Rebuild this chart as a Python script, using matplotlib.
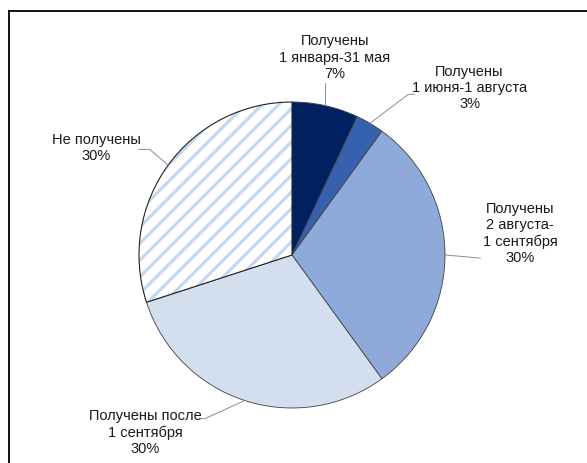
import numpy as np
import matplotlib.pyplot as plt
from matplotlib.patches import Wedge
from matplotlib.lines import Line2D

plt.rcParams['font.family'] = ['Liberation Sans Narrow', 'Liberation Sans', 'DejaVu Sans']
plt.rcParams['hatch.linewidth'] = 2.3

# доли писем по срокам получения
labels = ['Получены\n1 января-31 мая', 'Получены\n1 июня-1 августа',
          'Получены\n2 августа-\n1 сентября', 'Получены после\n1 сентября',
          'Не получены']
values = [7, 3, 30, 30, 30]
colors = ['#002060', '#3561ae', '#8eaadb', '#d3deef', '#ffffff']

# положение подписей и изломы выносок (в единицах радиуса)
label_xy = [(0.28, 1.29), (1.16, 1.09), (1.49, 0.14), (-0.96, -1.16), (-1.28, 0.70)]
elbow_xy = [(0.22, 1.12), (0.76, 1.05), (1.23, -0.02), (-0.57, -1.07), (-0.93, 0.69)]
elbow_end = [None, (0.80, 1.05), None, (-0.60, -1.07), (-1.00, 0.69)]

fig = plt.figure(figsize=(5.87, 4.63), dpi=100)
ax = fig.add_axes([0, 0, 1, 1])

wedges, _ = ax.pie(values, colors=colors, startangle=90, counterclock=False,
                   radius=1, wedgeprops=dict(edgecolor='#404040', linewidth=0.6))
ax.set_xlim(-292 / 153, 295 / 153)
ax.set_ylim(-208 / 153, 255 / 153)
ax.set_aspect('equal')
ax.axis('off')

# штриховка для "Не получены"
w = wedges[4]
w.set_hatch('//')
w.set_edgecolor('#c2d9f0')
w.set_linewidth(0)
ax.add_patch(Wedge(w.center, w.r, w.theta1, w.theta2, fill=False,
                   edgecolor='#202020', linewidth=0.8))

total = sum(values)
for i, (lab, v) in enumerate(zip(labels, values)):
    wd = wedges[i]
    ang = np.deg2rad((wd.theta1 + wd.theta2) / 2)
    px, py = np.cos(ang), np.sin(ang)
    ex, ey = elbow_xy[i]
    xs, ys = [px, ex], [py, ey]
    if elbow_end[i] is not None:
        xs.append(elbow_end[i][0])
        ys.append(elbow_end[i][1])
    ax.plot(xs, ys, color='#8c8c8c', linewidth=0.7)
    tx, ty = label_xy[i]
    ax.text(tx, ty, f'{lab}\n{round(v / total * 100)}%', ha='center', va='center',
            fontsize=10.5, color='#1a1a1a', linespacing=1.2)

# рамка
fig.add_artist(Line2D([8.5 / 587, 1], [1 - 10.5 / 463, 1 - 10.5 / 463],
                      transform=fig.transFigure, color='black', linewidth=1.3))
fig.add_artist(Line2D([8.5 / 587, 8.5 / 587], [0, 1 - 10.5 / 463],
                      transform=fig.transFigure, color='black', linewidth=1.3))

fig.savefig('out.png', dpi=100)
